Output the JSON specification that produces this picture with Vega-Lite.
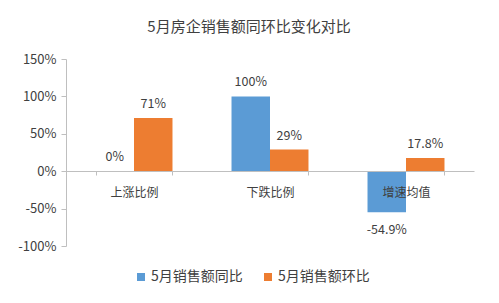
{
  "$schema": "https://vega.github.io/schema/vega-lite/v6.json",
  "width": 408,
  "height": 187,
  "autosize": {"type": "none"},
  "padding": {"left": 66, "top": 59, "right": 25, "bottom": 57},
  "background": "white",
  "config": {
    "view": {"stroke": null},
    "font": "Noto Sans CJK SC",
    "text": {"font": "Noto Sans CJK SC"},
    "locale": {"number": {"decimal": ".", "thousands": ",", "grouping": [3], "currency": ["", ""], "minus": "-"}}
  },
  "title": {
    "text": "5月房企销售额同环比变化对比",
    "fontSize": 15,
    "fontWeight": "normal",
    "color": "#404040",
    "font": "Noto Sans CJK SC",
    "anchor": "middle",
    "dx": -21,
    "offset": 18
  },
  "data": {
    "values": [
      {"cat": "上涨比例", "series": "5月销售额同比", "v": 0},
      {"cat": "上涨比例", "series": "5月销售额环比", "v": 0.71},
      {"cat": "下跌比例", "series": "5月销售额同比", "v": 1.0},
      {"cat": "下跌比例", "series": "5月销售额环比", "v": 0.29},
      {"cat": "增速均值", "series": "5月销售额同比", "v": -0.549},
      {"cat": "增速均值", "series": "5月销售额环比", "v": 0.178}
    ]
  },
  "encoding": {
    "x": {
      "field": "cat",
      "type": "nominal",
      "sort": ["上涨比例", "下跌比例", "增速均值"],
      "scale": {"paddingInner": 0.434, "paddingOuter": 0.217},
      "axis": {
        "title": null,
        "offset": -75,
        "tickBand": "extent",
        "labelAngle": 0,
        "labelFontSize": 12,
        "labelColor": "#404040",
        "labelFont": "Noto Sans CJK SC",
        "labelPadding": 12,
        "tickSize": 4,
        "domainColor": "#bfbfbf",
        "tickColor": "#bfbfbf",
        "zindex": 1
      }
    },
    "xOffset": {
      "field": "series",
      "type": "nominal",
      "sort": ["5月销售额同比", "5月销售额环比"],
      "scale": {"paddingInner": 0, "paddingOuter": 0}
    },
    "y": {
      "field": "v",
      "type": "quantitative",
      "scale": {"domain": [-1, 1.5], "nice": false},
      "axis": {
        "title": null,
        "values": [-1, -0.5, 0, 0.5, 1, 1.5],
        "format": ".0%",
        "grid": false,
        "labelFontSize": 13,
        "labelColor": "#404040",
        "labelFont": "Noto Sans CJK SC",
        "labelPadding": 5,
        "tickSize": 5,
        "domainColor": "#bfbfbf",
        "tickColor": "#bfbfbf"
      }
    }
  },
  "layer": [
    {
      "mark": {"type": "bar"},
      "encoding": {
        "color": {
          "field": "series",
          "type": "nominal",
          "sort": ["5月销售额同比", "5月销售额环比"],
          "scale": {"domain": ["5月销售额同比", "5月销售额环比"], "range": ["#5B9BD5", "#ED7D31"]},
          "legend": {
            "title": null,
            "orient": "none",
            "direction": "horizontal",
            "legendX": 68,
            "legendY": 211,
            "symbolType": "square",
            "symbolSize": 64,
            "symbolStrokeWidth": 0,
            "labelFontSize": 14,
            "labelColor": "#404040",
            "labelFont": "Noto Sans CJK SC",
            "columnPadding": 18,
            "labelOffset": 3
          }
        }
      }
    },
    {
      "transform": [{"filter": "datum.v >= 0"}],
      "mark": {"type": "text", "baseline": "bottom", "dy": -7, "fontSize": 12.5, "color": "#404040"},
      "encoding": {
        "text": {"field": "v", "type": "quantitative", "format": ".1~%"}
      }
    },
    {
      "transform": [{"filter": "datum.v < 0"}],
      "mark": {"type": "text", "baseline": "top", "dy": 12, "fontSize": 12.5, "color": "#404040"},
      "encoding": {
        "text": {"field": "v", "type": "quantitative", "format": ".1~%"}
      }
    }
  ]
}
